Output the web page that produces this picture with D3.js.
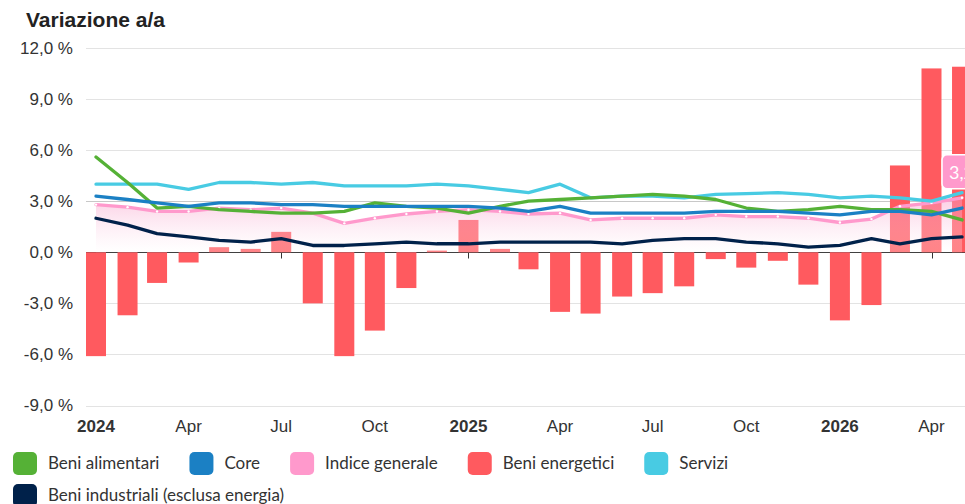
<!DOCTYPE html>
<html>
<head>
<meta charset="utf-8">
<script src="https://cdn.jsdelivr.net/npm/d3@7"></script>
<style>
  body { margin: 0; background: #fff; }
  svg { display: block; }
</style>
</head>
<body>
<svg id="chart" width="965" height="504"></svg>
<script>
// months Jan 2024 .. May 2026
const months = ["2024-01","2024-02","2024-03","2024-04","2024-05","2024-06","2024-07","2024-08","2024-09","2024-10","2024-11","2024-12",
  "2025-01","2025-02","2025-03","2025-04","2025-05","2025-06","2025-07","2025-08","2025-09","2025-10","2025-11","2025-12",
  "2026-01","2026-02","2026-03","2026-04","2026-05"];

const food = [5.6,4.1,2.6,2.7,2.5,2.4,2.3,2.3,2.4,2.9,2.7,2.6,2.3,2.7,3.0,3.1,3.2,3.3,3.4,3.3,3.1,2.6,2.4,2.5,2.7,2.5,2.5,2.4,1.9];
const core = [3.3,3.1,2.9,2.7,2.9,2.9,2.8,2.8,2.7,2.7,2.7,2.7,2.7,2.6,2.4,2.7,2.3,2.3,2.3,2.3,2.4,2.4,2.4,2.3,2.2,2.4,2.4,2.2,2.6];
const general = [2.8,2.65,2.4,2.4,2.6,2.5,2.6,2.3,1.7,2.0,2.25,2.4,2.5,2.4,2.25,2.3,1.9,2.0,2.0,2.0,2.2,2.1,2.1,2.0,1.75,1.95,2.7,2.9,3.2];
const energy = [-6.1,-3.7,-1.8,-0.6,0.3,0.2,1.2,-3.0,-6.1,-4.6,-2.1,0.1,1.9,0.2,-1.0,-3.5,-3.6,-2.6,-2.4,-2.0,-0.4,-0.9,-0.5,-1.9,-4.0,-3.1,5.1,10.8,10.9];
const services = [4.0,4.0,4.0,3.7,4.1,4.1,4.0,4.1,3.9,3.9,3.9,4.0,3.9,3.7,3.5,4.0,3.2,3.3,3.3,3.2,3.4,3.45,3.5,3.4,3.2,3.3,3.2,3.0,3.5];
const industrial = [2.0,1.6,1.1,0.9,0.7,0.6,0.8,0.4,0.4,0.5,0.6,0.5,0.5,0.6,0.6,0.6,0.6,0.5,0.7,0.8,0.8,0.6,0.5,0.3,0.4,0.8,0.5,0.8,0.9];

const yTicks = [12, 9, 6, 3, 0, -3, -6, -9];
const xTicks = ["2024-01","2024-04","2024-07","2024-10","2025-01","2025-04","2025-07","2025-10","2026-01","2026-04"];
const monthNames = ["Jan","Feb","Mar","Apr","May","Jun","Jul","Aug","Sep","Oct","Nov","Dec"];

const legendItems = [
  { name: "Beni alimentari", color: "#55b136" },
  { name: "Core", color: "#1b80c4" },
  { name: "Indice generale", color: "#ff99cc" },
  { name: "Beni energetici", color: "#ff5a5f" },
  { name: "Servizi", color: "#48cbe3" },
  { name: "Beni industriali (esclusa energia)", color: "#00214a" }
];

const svg = d3.select("#chart");
const width = +svg.attr("width");
const parse = d3.timeParse("%Y-%m");
const dates = months.map(parse);

const axisFont = "'Liberation Sans', Arial, sans-serif";

// scales
const x = d3.scaleTime()
  .domain([parse("2024-01"), parse("2026-04")])
  .range([96, 931.5]);
const y = d3.scaleLinear()
  .domain([-9, 12])
  .range([405.5, 48]);

const plotLeft = 86;

// title
svg.append("text")
  .attr("x", 26).attr("y", 27)
  .style("font-family", axisFont)
  .style("font-weight", "bold")
  .style("font-size", "21px")
  .attr("fill", "#222")
  .text("Variazione a/a");

// grid
svg.append("g")
  .selectAll("line")
  .data(yTicks.filter(d => d !== 0))
  .join("line")
  .attr("x1", plotLeft).attr("x2", width)
  .attr("y1", d => Math.round(y(d)) + 0.5).attr("y2", d => Math.round(y(d)) + 0.5)
  .attr("stroke", d => d === 3 ? "#c8c8c8" : "#e3e3e3")
  .attr("stroke-width", 1);

// y labels
svg.append("g")
  .selectAll("text")
  .data(yTicks)
  .join("text")
  .attr("x", 73)
  .attr("y", d => y(d))
  .attr("dy", "0.35em")
  .attr("text-anchor", "end")
  .style("font-family", axisFont)
  .style("font-size", "17px")
  .attr("fill", "#333")
  .text(d => d3.format(".1f")(d).replace("−", "-").replace(".", ",") + " %");

// x axis line at zero + ticks
const zeroY = Math.round(y(0)) + 0.5;
svg.append("line")
  .attr("x1", plotLeft).attr("x2", width)
  .attr("y1", zeroY).attr("y2", zeroY)
  .attr("stroke", "#333").attr("stroke-width", 1);

svg.append("g")
  .selectAll("line")
  .data(xTicks)
  .join("line")
  .attr("x1", d => Math.round(x(parse(d))) + 0.5)
  .attr("x2", d => Math.round(x(parse(d))) + 0.5)
  .attr("y1", zeroY).attr("y2", zeroY + 6)
  .attr("stroke", "#333");

// x labels
svg.append("g")
  .selectAll("text")
  .data(xTicks)
  .join("text")
  .attr("x", d => x(parse(d)))
  .attr("y", 432)
  .attr("text-anchor", "middle")
  .style("font-family", axisFont)
  .style("font-size", "17px")
  .style("font-weight", d => d.endsWith("-01") ? "bold" : "normal")
  .attr("fill", "#333")
  .text(d => d.endsWith("-01") ? d.slice(0, 4) : monthNames[+d.slice(5) - 1]);

// energy bars
const barW = 20;
svg.append("g")
  .selectAll("rect")
  .data(energy)
  .join("rect")
  .attr("x", (d, i) => x(dates[i]) - barW / 2)
  .attr("width", barW)
  .attr("y", d => y(Math.max(0, d)))
  .attr("height", d => Math.abs(y(d) - y(0)))
  .attr("fill", "#ff5a5f");

// gradient for indice generale area
const defs = svg.append("defs");
const grad = defs.append("linearGradient")
  .attr("id", "pinkArea")
  .attr("x1", 0).attr("y1", 0).attr("x2", 0).attr("y2", 1);
grad.append("stop").attr("offset", "0%").attr("stop-color", "#f79ac6").attr("stop-opacity", 0.48);
grad.append("stop").attr("offset", "100%").attr("stop-color", "#ffffff").attr("stop-opacity", 0.25);

const area = d3.area()
  .x((d, i) => x(dates[i]))
  .y0(y(0))
  .y1(d => y(d));
svg.append("path")
  .datum(general)
  .attr("d", area)
  .attr("fill", "url(#pinkArea)");

const line = d3.line()
  .x((d, i) => x(dates[i]))
  .y(d => y(d));

function drawLine(values, color) {
  svg.append("path")
    .datum(values)
    .attr("d", line)
    .attr("fill", "none")
    .attr("stroke", color)
    .attr("stroke-width", 3.3)
    .attr("stroke-linejoin", "round")
    .attr("stroke-linecap", "round");
}

drawLine(general, "#ff99cc");
svg.append("g")
  .selectAll("circle")
  .data(general)
  .join("circle")
  .attr("cx", (d, i) => x(dates[i]))
  .attr("cy", d => y(d))
  .attr("r", 1.2)
  .attr("fill", "#fff");
drawLine(industrial, "#00214a");
drawLine(services, "#48cbe3");
drawLine(food, "#55b136");
drawLine(core, "#1b80c4");

// data label for last point of indice generale
const lastI = general.length - 1;
const lbl = svg.append("g")
  .attr("transform", `translate(${x(dates[lastI]) - 20},${y(general[lastI]) - 43})`);
lbl.append("rect")
  .attr("width", 64).attr("height", 34).attr("rx", 5)
  .attr("fill", "#ff99cc")
  .attr("stroke", "#fff").attr("stroke-width", 1.5);
lbl.append("text")
  .attr("x", 7).attr("y", 24)
  .style("font-family", "Lato, 'Noto Sans', sans-serif")
  .style("font-size", "18px")
  .attr("fill", "#fff")
  .text(d3.format(".1f")(general[lastI]).replace(".", ",") + " %");

// legend
const legend = svg.append("g");
let lx = 13, ly = 452;
const rowH = 32;
legendItems.forEach(item => {
  const g = legend.append("g");
  const t = g.append("text")
    .attr("x", 35).attr("y", 17)
    .style("font-family", "Lato, 'Noto Sans', sans-serif")
    .style("font-size", "17px")
    .attr("fill", "#333")
    .text(item.name);
  const w = 35 + t.node().getComputedTextLength();
  if (lx + w > width - 5 && lx > 13) {
    lx = 13;
    ly += rowH;
  }
  g.attr("transform", `translate(${lx},${ly})`);
  g.insert("rect", "text")
    .attr("width", 24).attr("height", 23).attr("rx", 5)
    .attr("fill", item.color);
  lx += w + 30;
});
</script>
</body>
</html>
